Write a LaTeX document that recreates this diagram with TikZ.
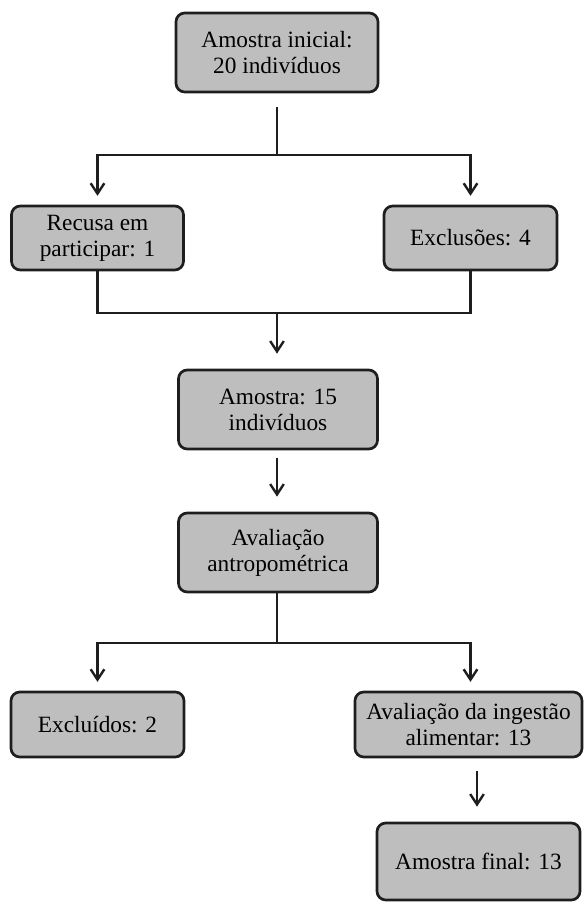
\documentclass[tikz,border=0pt]{standalone}
\usepackage{fontspec}
\setmainfont{Liberation Serif}
\usepackage{tikz}
\usetikzlibrary{arrows.meta}
\definecolor{boxgray}{RGB}{190,190,190}
\definecolor{edgegray}{RGB}{30,30,30}

\begin{document}
\begin{tikzpicture}[x=0.025cm,y=-0.025cm,
	box/.style={draw=edgegray,fill=boxgray,line width=1.9pt,rounded corners=0.22cm,align=center,inner sep=0pt,font=\fontsize{16.6}{18.5}\selectfont},
	conn/.style={draw=edgegray,line width=1.7pt},
	arrowline/.style={conn,-{Straight Barb[length=2.6mm,width=3.4mm,line width=1.7pt]}}]
	\useasboundingbox (0,0) rectangle (584,902);
	\node[box,minimum width=5.05cm,minimum height=1.975cm] (inicial) at (277,52.5) {Amostra inicial:\\20 indivíduos};
	\node[box,minimum width=4.3cm,minimum height=1.6cm] (recusa) at (97.5,238) {Recusa em\\participar: 1};
	\node[box,minimum width=4.325cm,minimum height=1.6cm] (exclusoes) at (470.5,238) {Exclusões: 4};
	\node[box,minimum width=4.975cm,minimum height=1.975cm] (amostra) at (278,409.5) {Amostra: 15\\indivíduos};
	\node[box,minimum width=4.975cm,minimum height=1.975cm] (avaliacao) at (278,552.5) {Avaliação\\antropométrica};
	\node[box,minimum width=4.325cm,minimum height=1.625cm] (excluidos) at (97.5,724.5) {Excluídos: 2};
	\node[box,minimum width=5.675cm,minimum height=1.625cm] (ingestao) at (468.5,724.5) {Avaliação da ingestão\\alimentar: 13};
	\node[box,minimum width=5.075cm,minimum height=1.925cm] (final) at (478.5,861.5) {Amostra final: 13};
	\coordinate (split1) at (277,155);
	\coordinate (merge) at (277,313);
	\coordinate (split2) at (277,643);
	\draw[conn,shorten <=0.35cm] (inicial.south) -- (split1);
	\draw[arrowline,shorten >=0.22cm] (split1) -| (recusa.north);
	\draw[arrowline,shorten >=0.22cm] (split1) -| (exclusoes.north);
	\draw[conn] (recusa.south) |- (merge) -| (exclusoes.south);
	\draw[arrowline,shorten >=0.375cm] (merge) -- (merge |- amostra.north);
	\draw[arrowline,shorten <=0.2cm,shorten >=0.375cm] (amostra.south -| merge) -- (avaliacao.north -| merge);
	\draw[conn] (avaliacao.south -| split2) -- (split2);
	\draw[arrowline,shorten >=0.22cm] (split2) -| (excluidos.north);
	\draw[arrowline,shorten >=0.22cm] (split2) -| ([xshift=0.05cm]ingestao.north);
	\draw[arrowline,shorten <=0.325cm,shorten >=0.375cm] (ingestao.south -| 477,0) -- (final.north -| 477,0);
\end{tikzpicture}
\end{document}
